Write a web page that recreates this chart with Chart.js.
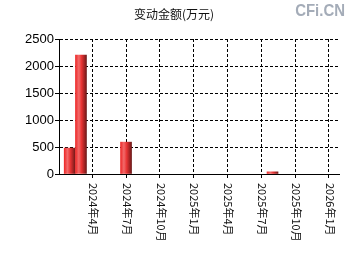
<!DOCTYPE html>
<html>
<head>
<meta charset="utf-8">
<script src="https://cdn.jsdelivr.net/npm/chart.js@4.4.1/dist/chart.umd.min.js"></script>
<style>
    body { margin: 0; background: #fff; }
    #chart { display: block; }
</style>
</head>
<body>
<canvas id="chart" width="350" height="260"></canvas>
<script>
// data
const title = '变动金额(万元)';
const barDates = ['2024-02', '2024-03', '2024-07', '2025-08'];
const barValues = [480, 2200, 590, 40];
const tickDates = ['2024-04', '2024-07', '2024-10', '2025-01', '2025-04', '2025-07', '2025-10', '2026-01'];
const tickLabels = ['2024年4月', '2024年7月', '2024年10月', '2025年1月', '2025年4月', '2025年7月', '2025年10月', '2026年1月'];
const yTicks = [0, 500, 1000, 1500, 2000, 2500];

// months counted from 2024-01
function monthIndex(s) {
    const p = s.split('-');
    return (parseInt(p[0]) - 2024) * 12 + parseInt(p[1]) - 1;
}
const tickMonths = tickDates.map(monthIndex);

// red cylinder look for the bars
function barFill(c) {
    const chart = c.chart;
    if (!chart.scales.x || c.raw == null) return '#e03030';
    const cx = chart.scales.x.getPixelForValue(c.raw.x);
    if (!isFinite(cx)) return '#e03030';
    const g = chart.ctx.createLinearGradient(cx - 5.5, 0, cx + 5.5, 0);
    g.addColorStop(0, '#ee2a2a');
    g.addColorStop(0.3, '#f26a6a');
    g.addColorStop(0.55, '#e83434');
    g.addColorStop(0.8, '#a82424');
    g.addColorStop(1, '#6e1a1a');
    return g;
}

// title, watermark and the rotated date labels
const extras = {
    id: 'extras',
    afterDraw(chart) {
        const ctx = chart.ctx;
        ctx.save();
        ctx.fillStyle = '#111';
        ctx.font = '12px "Noto Sans CJK SC"';
        ctx.textAlign = 'center';
        ctx.textBaseline = 'middle';
        ctx.fillText(title, 174, 14);

        ctx.fillStyle = '#a4acb8';
        ctx.font = 'bold 17px "Liberation Sans"';
        ctx.textAlign = 'right';
        ctx.save();
        ctx.translate(345, 11);
        ctx.scale(0.88, 1);
        ctx.fillText('CFi.CN', 0, 0);
        ctx.restore();

        ctx.fillStyle = '#111';
        ctx.font = '11px "Noto Sans CJK SC"';
        ctx.textAlign = 'left';
        ctx.textBaseline = 'middle';
        const xs = chart.scales.x;
        tickMonths.forEach(function (m, i) {
            ctx.save();
            ctx.translate(xs.getPixelForValue(m) + 1, chart.chartArea.bottom + 9);
            ctx.rotate(Math.PI / 2);
            ctx.fillText(tickLabels[i], 0, 0);
            ctx.restore();
        });
        ctx.restore();
    }
};

const ctx = document.getElementById('chart').getContext('2d');
const chart = new Chart(ctx, {
    type: 'bar',
    data: {
        datasets: [{
            data: barDates.map(function (d, i) { return { x: monthIndex(d), y: barValues[i] }; }),
            backgroundColor: barFill,
            borderWidth: 0,
            barThickness: 11
        }]
    },
    options: {
        responsive: false,
        animation: false,
        layout: { padding: { left: 0, top: 39, right: 11, bottom: 0 } },
        plugins: { legend: { display: false }, tooltip: { enabled: false } },
        scales: {
            x: {
                type: 'linear',
                min: 0.05,
                max: 24.9,
                offset: false,
                afterBuildTicks: function (s) { s.ticks = tickMonths.map(function (v) { return { value: v }; }); },
                afterFit: function (s) { s.height = 86; },
                ticks: { display: false },
                grid: { color: '#000', offset: false, tickLength: 4 },
                border: { color: '#000', width: 1, dash: [3, 2] }
            },
            y: {
                min: 0,
                max: 2500,
                afterBuildTicks: function (s) { s.ticks = yTicks.map(function (v) { return { value: v }; }); },
                afterFit: function (s) { s.width = 59; },
                ticks: {
                    color: '#000',
                    padding: 1,
                    font: { family: 'Liberation Sans', size: 13 },
                    callback: function (v) { return String(v); }
                },
                grid: { color: '#000', tickLength: 4 },
                border: { color: '#000', width: 1, dash: [3, 2] }
            }
        }
    },
    plugins: [extras]
});
// redraw once the scales are laid out so the gradients get real positions
chart.update();
</script>
</body>
</html>
